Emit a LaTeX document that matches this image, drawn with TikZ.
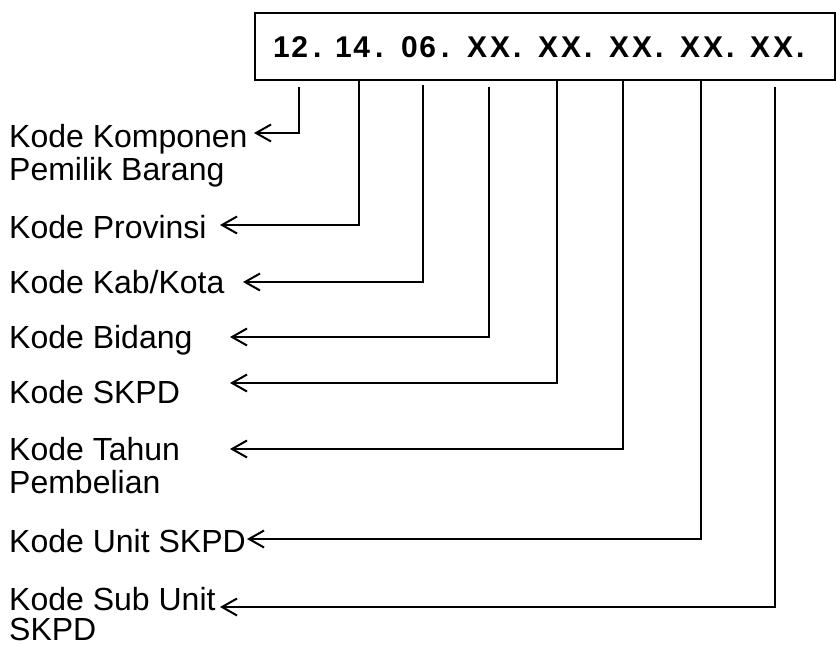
\documentclass[tikz,border=0pt]{standalone}
\usepackage{fontspec}
\setmainfont{Liberation Sans}
\usetikzlibrary{arrows.meta}
\tikzset{
  lbl/.style={anchor=base west, inner sep=0pt, font=\fontsize{32}{34}\selectfont},
  grp/.style={anchor=base west, inner sep=0pt, font=\fontsize{30}{32}\selectfont\bfseries},
  conn/.style={line width=2.2pt, -{Straight Barb[length=15pt,width=17pt,line width=2pt]}},
  boxline/.style={line width=2.2pt}
}
\newcommand{\dsp}{\kern1.5pt}
\newcommand{\psp}{\kern5pt}
\newcommand{\xsp}{\kern3pt}
\begin{document}
\begin{tikzpicture}[x=1pt,y=-1pt]
\useasboundingbox (0,0) rectangle (836,645);
\fill[white] (0,0) rectangle (836,645);
% code box
\node[boxline, draw, minimum width=580pt, minimum height=67pt, anchor=north west, inner sep=0pt] (box) at (254,12) {};
\node[grp] (g1) at (273,57) {1\dsp2\psp.};
\node[grp] (g2) at (335,57) {1\dsp4\psp.};
\node[grp] (g3) at (401,57) {0\dsp6\psp.};
\node[grp] (g4) at (467,57) {X\xsp X\xsp.};
\node[grp] (g5) at (538,57) {X\xsp X\xsp.};
\node[grp] (g6) at (609,57) {X\xsp X\xsp.};
\node[grp] (g7) at (680,57) {X\xsp X\xsp.};
\node[grp] (g8) at (750,57) {X\xsp X\xsp.};
% labels
\node[lbl] (l1) at (9,147) {Kode Komponen};
\node[lbl] (l1b) at (9,180) {Pemilik Barang};
\node[lbl] (l2) at (9,238) {Kode Provinsi};
\node[lbl] (l3) at (9,293) {Kode Kab/Kota};
\node[lbl] (l4) at (9,348) {Kode Bidang};
\node[lbl] (l5) at (9,403) {Kode SKPD};
\node[lbl] (l6) at (9,460) {Kode Tahun};
\node[lbl] (l6b) at (9,493) {Pembelian};
\node[lbl] (l7) at (9,552) {Kode Unit SKPD};
\node[lbl] (l8) at (9,610) {Kode Sub Unit};
\node[lbl] (l8b) at (9,640) {SKPD};
% connector start points (under the box)
\coordinate (s1) at (299,87);
\coordinate (s2) at (359,79);
\coordinate (s3) at (423,85);
\coordinate (s4) at (489,87);
\coordinate (s5) at (557,79);
\coordinate (s6) at (623,79);
\coordinate (s7) at (701,79);
\coordinate (s8) at (775,87);
% arrow tips
\coordinate (t1) at (254,133);
\coordinate (t2) at (220,225);
\coordinate (t3) at (243,282);
\coordinate (t4) at (230,337);
\coordinate (t5) at (230,383);
\coordinate (t6) at (230,449);
\coordinate (t7) at (247,539);
\coordinate (t8) at (220,607);
\draw[conn] (s1) |- (t1);
\draw[conn] (s2) |- (t2);
\draw[conn] (s3) |- (t3);
\draw[conn] (s4) |- (t4);
\draw[conn] (s5) |- (t5);
\draw[conn] (s6) |- (t6);
\draw[conn] (s7) |- (t7);
\draw[conn] (s8) |- (t8);
\end{tikzpicture}
\end{document}
